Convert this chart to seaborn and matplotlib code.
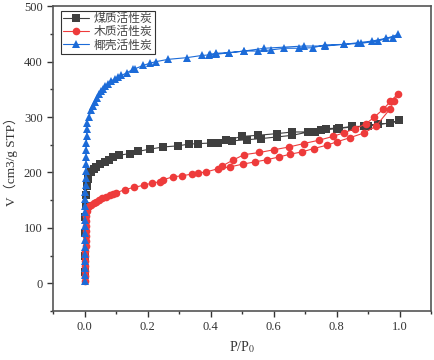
import numpy as np
import matplotlib
matplotlib.use('Agg')
import matplotlib.pyplot as plt
from matplotlib.ticker import MultipleLocator, FormatStrFormatter
import seaborn as sns

# 煤质活性炭 (吸附 + 脱附)
coal_x = [0.0002, 0.0005, 0.001, 0.002, 0.003, 0.005, 0.008, 0.011, 0.02, 0.03, 0.037, 0.05,
          0.064, 0.077, 0.09, 0.11, 0.143, 0.17, 0.207, 0.25, 0.297, 0.33, 0.36, 0.40, 0.425,
          0.467, 0.515, 0.56, 0.61, 0.66, 0.71, 0.75, 0.80, 0.85, 0.90, 0.93, 0.971, 0.998,
          0.971, 0.93, 0.886, 0.85, 0.807, 0.765, 0.73, 0.66, 0.61, 0.55, 0.50, 0.45, 0.40]
coal_y = [20, 50, 90, 120, 140, 160, 175, 189, 200, 207, 210, 215,
          219, 223, 227, 231, 234, 238, 242, 246, 248, 251, 252, 253, 254,
          257, 259, 261, 264, 267, 273, 276, 279, 282, 284, 287, 289, 294,
          289, 287, 283, 283, 280, 279, 273, 273, 270, 267, 265, 258, 254]

# 木质活性炭
wood_x = [0.0002, 0.0004, 0.0006, 0.001, 0.0015, 0.002, 0.0025, 0.003, 0.0035, 0.004, 0.0045,
          0.005, 0.0055, 0.006, 0.007, 0.01, 0.015, 0.02, 0.03, 0.037, 0.045, 0.055, 0.069,
          0.08, 0.09, 0.10, 0.127, 0.157, 0.188, 0.215, 0.239, 0.25, 0.28, 0.31, 0.34, 0.36,
          0.387, 0.425, 0.462, 0.502, 0.541, 0.579, 0.618, 0.653, 0.69, 0.727, 0.768, 0.80,
          0.844, 0.886, 0.924, 0.969, 0.982, 0.995,
          0.971, 0.948, 0.92, 0.894, 0.86, 0.825, 0.789, 0.743, 0.695, 0.65, 0.602, 0.555,
          0.506, 0.47, 0.435]
wood_y = [5, 14, 23, 32, 41, 50, 59, 68, 77, 86, 95,
          104, 113, 122, 130, 137, 140, 142, 145, 147, 150, 153, 156,
          159, 161, 163, 169, 173, 177, 181, 183, 187, 192, 194, 197, 199,
          201, 207, 210, 215, 219, 223, 228, 233, 237, 243, 249, 255,
          263, 271, 283, 314, 328, 342,
          328, 314, 300, 288, 279, 272, 265, 258, 252, 246, 241, 236,
          232, 222, 211]

# 椰壳活性炭
coco_x = [0.00005, 0.0001, 0.0002, 0.0003, 0.0004, 0.0005, 0.0006, 0.0008, 0.001, 0.0012,
          0.0015, 0.0018, 0.002, 0.0025, 0.003, 0.0035, 0.004, 0.0045, 0.005, 0.0055, 0.006,
          0.0065, 0.007, 0.008, 0.014, 0.021, 0.026, 0.032, 0.039, 0.046, 0.052, 0.058, 0.066,
          0.074, 0.085, 0.096, 0.107, 0.117, 0.135, 0.154, 0.16, 0.186, 0.207, 0.228, 0.265,
          0.324, 0.372, 0.396, 0.417, 0.459, 0.507, 0.55, 0.592, 0.634, 0.682, 0.725, 0.762,
          0.823, 0.868, 0.913, 0.958, 0.98, 0.996,
          0.932, 0.879, 0.823, 0.762, 0.695, 0.571, 0.507, 0.459, 0.417, 0.398]
coco_y = [5, 15, 28, 40, 52, 65, 78, 90, 103, 115,
          128, 140, 152, 165, 178, 190, 203, 215, 228, 240, 253,
          265, 278, 290, 300, 312, 320, 327, 335, 342, 347, 351, 356,
          360, 365, 369, 372, 375, 380, 386, 387, 393, 397, 400, 404,
          407, 411, 412, 413, 416, 419, 419, 421, 424, 424, 425, 430,
          431, 434, 437, 442, 443, 449,
          437, 433, 431, 428, 428, 424, 419, 416, 415, 413]

labels = ['煤质活性炭', '木质活性炭', '椰壳活性炭']

sns.set_style('ticks')
plt.rcParams['font.family'] = ['Liberation Serif', 'Noto Sans CJK SC']
plt.rcParams['mathtext.fontset'] = 'stix'

fig = plt.figure(figsize=(4.35, 3.6), dpi=100)
ax = fig.add_axes([0.122, 0.136, 0.869, 0.847])

series = [(coal_x, coal_y, 's', '#3f3f3f', labels[0]),
          (wood_x, wood_y, 'o', '#ee3b3b', labels[1]),
          (coco_x, coco_y, '^', '#1c6bd8', labels[2])]
for xs, ys, mk, col, lab in series:
    sns.lineplot(x=xs, y=ys, sort=False, estimator=None, marker=mk, color=col,
                 markersize=5.5, markeredgewidth=0, linewidth=0.8, label=lab, ax=ax)

ax.set_xlim(-0.1, 1.1)
ax.set_ylim(-50, 500)
ax.xaxis.set_major_locator(MultipleLocator(0.2))
ax.xaxis.set_minor_locator(MultipleLocator(0.1))
ax.yaxis.set_major_locator(MultipleLocator(100))
ax.yaxis.set_minor_locator(MultipleLocator(50))
ax.xaxis.set_major_formatter(FormatStrFormatter('%.1f'))
ax.tick_params(which='major', direction='out', length=4, width=1, labelsize=9, colors='#333333')
ax.tick_params(which='minor', direction='out', length=2.5, width=1, colors='#333333')
for s in ax.spines.values():
    s.set_linewidth(1.2)
    s.set_color('#555555')

ax.set_xlabel('P/P$_0$', fontsize=10, color='#333333')
ax.set_ylabel('V（cm3/g STP）', fontsize=9.5, color='#333333')

leg = ax.legend(loc='upper left', bbox_to_anchor=(0.02, 0.985), fancybox=False,
                edgecolor='#333333', framealpha=1, fontsize=8.5, borderpad=0.2,
                labelspacing=0.1, handlelength=2.2, handletextpad=0.4, borderaxespad=0)
leg.get_frame().set_linewidth(0.8)
for t in leg.get_texts():
    t.set_color('#444444')

fig.savefig('out.png', dpi=100)
